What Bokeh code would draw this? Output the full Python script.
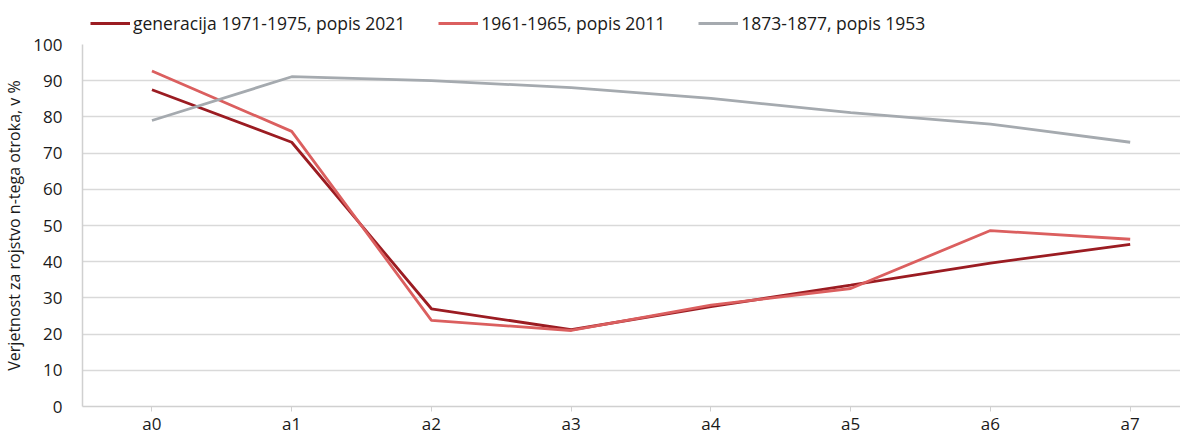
from bokeh.plotting import figure
from bokeh.models import Legend, LegendItem, FixedTicker, Range1d
from bokeh.layouts import column
from bokeh.embed import file_html
from bokeh.resources import INLINE

categories = ["a0", "a1", "a2", "a3", "a4", "a5", "a6", "a7"]
gen_1971 = [87.5, 73.0, 27.0, 21.2, 27.6, 33.5, 39.6, 44.8]
gen_1961 = [92.7, 76.0, 23.8, 21.0, 28.0, 32.6, 48.6, 46.2]
gen_1873 = [79.0, 91.1, 90.0, 88.1, 85.1, 81.2, 78.0, 73.0]
series_names = ["generacija 1971-1975, popis 2021", "1961-1965, popis 2011", "1873-1877, popis 1953"]
colors = ["#9B1C22", "#DB5F5F", "#A5AAAF"]

FONT = "Open Sans"
LW = 2.8
xs = list(range(len(categories)))
series = [gen_1971, gen_1961, gen_1873]

# ---- legend strip (its lines lie outside its visible range; only the legend shows) ----
lg = figure(width=1180, height=34, output_backend="svg", toolbar_location=None,
            x_range=Range1d(100, 101), y_range=Range1d(1000, 1001),
            x_axis_location=None, y_axis_location=None,
            min_border_left=0, min_border_right=0, min_border_top=0, min_border_bottom=0)
lg.outline_line_color = None
lg.grid.visible = False
lrs = [lg.line(xs, ys, line_color=c, line_width=LW) for ys, c in zip(series, colors)]
legend = Legend(items=[LegendItem(label=n, renderers=[r]) for n, r in zip(series_names, lrs)],
                orientation="horizontal", location=(8, -1))
legend.label_text_font = FONT
legend.label_text_font_size = "17.5px"
legend.label_text_color = "#1a1a1a"
legend.glyph_width = 40
legend.label_standoff = 3
legend.spacing = 33
legend.padding = 4
legend.margin = 0
legend.border_line_color = None
legend.background_fill_alpha = 0
legend.label_height = 18
legend.glyph_height = 18
lg.add_layout(legend, "center")

# ---- main chart ----
p = figure(width=1180, height=403, output_backend="svg", toolbar_location=None,
           x_range=Range1d(-0.497, 7.36), y_range=Range1d(0, 100),
           min_border_left=75, min_border_right=0, min_border_top=10, min_border_bottom=0)
p.outline_line_color = None
p.background_fill_color = "white"

for ys, c in zip(series, colors):
    p.line(xs, ys, line_color=c, line_width=LW)

p.xaxis.ticker = FixedTicker(ticks=xs)
p.xaxis.major_label_overrides = {i: c for i, c in enumerate(categories)}
p.xaxis.axis_line_color = "#D0D0D0"
p.xaxis.axis_line_width = 1.5
p.xaxis.major_tick_line_color = "#D0D0D0"
p.xaxis.major_tick_out = 5
p.xaxis.major_tick_in = 0
p.xaxis.minor_tick_line_color = None
p.xaxis.major_label_text_font = FONT
p.xaxis.major_label_text_font_size = "17px"
p.xaxis.major_label_text_color = "#1a1a1a"
p.xaxis.major_label_standoff = 0

p.yaxis.ticker = FixedTicker(ticks=list(range(0, 101, 10)))
p.yaxis.axis_line_color = "#D0D0D0"
p.yaxis.axis_line_width = 1.5
p.yaxis.major_tick_line_color = None
p.yaxis.minor_tick_line_color = None
p.yaxis.major_label_text_font = FONT
p.yaxis.major_label_text_font_size = "17px"
p.yaxis.major_label_text_color = "#1a1a1a"
p.yaxis.major_label_standoff = 14
p.yaxis.axis_label = "Verjetnost za rojstvo n-tega otroka, v %"
p.yaxis.axis_label_text_font = FONT
p.yaxis.axis_label_text_font_size = "16px"
p.yaxis.axis_label_text_font_style = "normal"
p.yaxis.axis_label_text_color = "#1a1a1a"
p.yaxis.axis_label_standoff = 5

p.xgrid.grid_line_color = None
p.ygrid.grid_line_color = "#D9D9D9"
p.ygrid.grid_line_width = 1.5

layout = column(lg, p, spacing=0)
open("out.html", "w").write(file_html(layout, INLINE))
